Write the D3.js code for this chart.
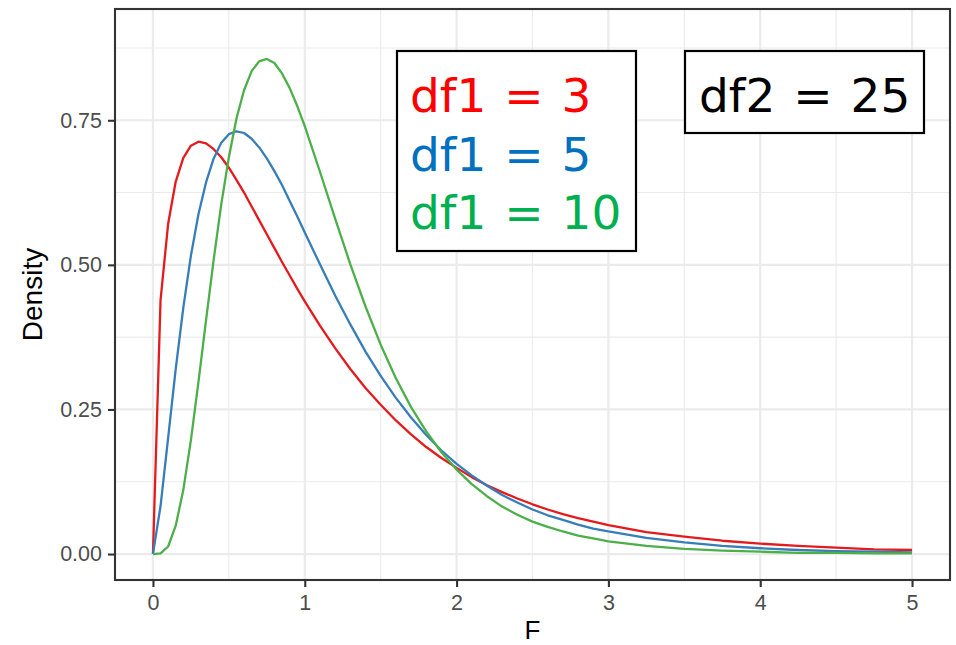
<!DOCTYPE html>
<html>
<head>
<meta charset="utf-8">
<script src="https://cdn.jsdelivr.net/npm/d3@7"></script>
<style>
  body { margin: 0; background: #fff; }
</style>
</head>
<body>
<script>
var fGrid = [0, 0.05, 0.1, 0.15, 0.2, 0.25, 0.3, 0.35, 0.4, 0.45, 0.5, 0.55, 0.6, 0.65, 0.7, 0.75, 0.8, 0.85, 0.9, 0.95, 1.0,
  1.1, 1.2, 1.3, 1.4, 1.5, 1.6, 1.7, 1.8, 1.9, 2.0, 2.1, 2.2, 2.3, 2.4, 2.5, 2.6, 2.7, 2.8, 2.9, 3.0,
  3.25, 3.5, 3.75, 4.0, 4.25, 4.5, 4.75, 5.0];

// density, df1 = 3 (df2 = 25)
var densDf3 = [0, 0.439, 0.571, 0.644, 0.685, 0.706, 0.713, 0.710, 0.700, 0.686, 0.668, 0.647, 0.625, 0.601, 0.577, 0.553, 0.529, 0.505, 0.482, 0.459, 0.437,
  0.395, 0.356, 0.320, 0.287, 0.258, 0.231, 0.207, 0.185, 0.166, 0.149, 0.133, 0.119, 0.107, 0.096, 0.086, 0.077, 0.069, 0.062, 0.056, 0.050,
  0.038, 0.030, 0.023, 0.018, 0.014, 0.011, 0.008, 0.007];
// density, df1 = 5
var densDf5 = [0, 0.083, 0.201, 0.320, 0.426, 0.516, 0.588, 0.643, 0.684, 0.711, 0.726, 0.731, 0.728, 0.718, 0.703, 0.684, 0.662, 0.638, 0.611, 0.584, 0.556,
  0.501, 0.447, 0.397, 0.350, 0.308, 0.270, 0.236, 0.206, 0.179, 0.156, 0.136, 0.118, 0.102, 0.089, 0.077, 0.067, 0.059, 0.051, 0.044, 0.039,
  0.028, 0.020, 0.014, 0.010, 0.007, 0.005, 0.004, 0.003];
// density, df1 = 10
var densDf10 = [0, 0.001, 0.013, 0.049, 0.111, 0.197, 0.298, 0.405, 0.509, 0.605, 0.686, 0.753, 0.802, 0.835, 0.852, 0.856, 0.849, 0.831, 0.806, 0.775, 0.740,
  0.661, 0.580, 0.501, 0.428, 0.362, 0.304, 0.254, 0.212, 0.176, 0.146, 0.121, 0.100, 0.082, 0.068, 0.056, 0.047, 0.039, 0.032, 0.027, 0.022,
  0.014, 0.009, 0.006, 0.004, 0.002, 0.002, 0.001, 0.001];

var xTicks = [0, 1, 2, 3, 4, 5];
var xMinor = [0.5, 1.5, 2.5, 3.5, 4.5];
var yTicks = [0, 0.25, 0.5, 0.75];
var yMinor = [0.125, 0.375, 0.625, 0.875];

var legendLabels = ["df1 = 3", "df1 = 5", "df1 = 10"];
var legendColors = ["#FF0000", "#0070C0", "#00B050"];
var lineColors = ["#E41A1C", "#377EB8", "#4DAF4A"];
var df2Label = "df2 = 25";

var width = 956,
    height = 645;
var panel = {left: 115, right: 950, top: 9, bottom: 580};

var svg = d3.select("body").append("svg")
  .attr("width", width)
  .attr("height", height);

var xScale = d3.scaleLinear().domain([-0.25, 5.25]).range([panel.left, panel.right]);
var yScale = d3.scaleLinear().domain([-0.0449, 0.9424]).range([panel.bottom, panel.top]);

// grid
function drawGrid() {
  svg.selectAll(".minorX").data(xMinor).enter()
    .append("line")
      .attr("x1", function(d){ return xScale(d); })
      .attr("x2", function(d){ return xScale(d); })
      .attr("y1", panel.top).attr("y2", panel.bottom)
      .style("stroke", "#EBEBEB").style("stroke-width", 1.1);
  svg.selectAll(".minorY").data(yMinor).enter()
    .append("line")
      .attr("x1", panel.left).attr("x2", panel.right)
      .attr("y1", function(d){ return yScale(d); })
      .attr("y2", function(d){ return yScale(d); })
      .style("stroke", "#EBEBEB").style("stroke-width", 1.1);
  svg.selectAll(".majorX").data(xTicks).enter()
    .append("line")
      .attr("x1", function(d){ return xScale(d); })
      .attr("x2", function(d){ return xScale(d); })
      .attr("y1", panel.top).attr("y2", panel.bottom)
      .style("stroke", "#EBEBEB").style("stroke-width", 2.2);
  svg.selectAll(".majorY").data(yTicks).enter()
    .append("line")
      .attr("x1", panel.left).attr("x2", panel.right)
      .attr("y1", function(d){ return yScale(d); })
      .attr("y2", function(d){ return yScale(d); })
      .style("stroke", "#EBEBEB").style("stroke-width", 2.2);
}
drawGrid();

// curves
var series = [densDf3, densDf5, densDf10];
var line = d3.line()
  .x(function(d){ return xScale(d[0]); })
  .y(function(d){ return yScale(d[1]); });

series.forEach(function(vals, i) {
  var pts = fGrid.map(function(f, j){ return [f, vals[j]]; });
  svg.append("path")
    .datum(pts)
    .attr("d", line)
    .style("fill", "none")
    .style("stroke", lineColors[i])
    .style("stroke-width", 2.3)
    .style("stroke-linejoin", "round");
});

// axes
var xAxis = d3.axisBottom(xScale).tickValues(xTicks).tickSize(7).tickPadding(8)
  .tickFormat(d3.format("d"));
var yAxis = d3.axisLeft(yScale).tickValues(yTicks).tickSize(7).tickPadding(6)
  .tickFormat(d3.format(".2f"));

var gx = svg.append("g").attr("transform", "translate(0," + panel.bottom + ")").call(xAxis);
var gy = svg.append("g").attr("transform", "translate(" + panel.left + ",0)").call(yAxis);
[gx, gy].forEach(function(g) {
  g.select(".domain").remove();
  g.selectAll(".tick line").style("stroke", "#333333").style("stroke-width", 2.1);
  g.selectAll(".tick text")
    .style("fill", "#4D4D4D")
    .style("font-family", "Liberation Sans, Arial, sans-serif")
    .style("font-size", "21.5px");
});
gx.selectAll(".tick text").attr("dy", "0.71em");

// panel border
svg.append("rect")
  .attr("x", panel.left).attr("y", panel.top)
  .attr("width", panel.right - panel.left)
  .attr("height", panel.bottom - panel.top)
  .style("fill", "none")
  .style("stroke", "#333333")
  .style("stroke-width", 2.1);

// axis titles
svg.append("text")
  .attr("x", (panel.left + panel.right) / 2)
  .attr("y", 639)
  .attr("text-anchor", "middle")
  .style("font-family", "Liberation Sans, Arial, sans-serif")
  .style("font-size", "26px")
  .text("F");
svg.append("text")
  .attr("transform", "translate(42," + (panel.top + panel.bottom) / 2 + ") rotate(-90)")
  .attr("text-anchor", "middle")
  .style("font-family", "Liberation Sans, Arial, sans-serif")
  .style("font-size", "28px")
  .text("Density");

// legend boxes
function drawBoxes() {
  svg.append("rect")
    .attr("x", 397).attr("y", 51)
    .attr("width", 239).attr("height", 200)
    .style("fill", "#fff").style("stroke", "#000").style("stroke-width", 2.2);
  svg.selectAll(".legText").data(legendLabels).enter()
    .append("text")
      .attr("class", "legText")
      .attr("x", 410)
      .attr("y", function(d, i){ return 112 + 58.5 * i; })
      .style("fill", function(d, i){ return legendColors[i]; })
      .style("font-family", "DejaVu Sans, Verdana, sans-serif")
      .style("font-size", "47px")
      .style("word-spacing", "3px")
      .text(function(d){ return d; });

  svg.append("rect")
    .attr("x", 685).attr("y", 51)
    .attr("width", 239).attr("height", 82)
    .style("fill", "#fff").style("stroke", "#000").style("stroke-width", 2.2);
  svg.append("text")
    .attr("x", 699)
    .attr("y", 112)
    .style("fill", "#000")
    .style("font-family", "DejaVu Sans, Verdana, sans-serif")
    .style("font-size", "47px")
    .style("word-spacing", "3px")
    .text(df2Label);
}
drawBoxes();
</script>
</body>
</html>
